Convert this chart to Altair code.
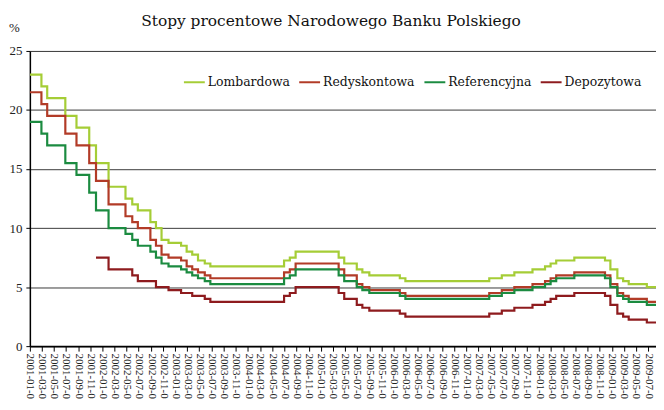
import altair as alt
import pandas as pd

# Dates of rate changes (step function) and rate values in %
dates = [
    "2001-01-01", "2001-02-28", "2001-03-29", "2001-06-28", "2001-08-23", "2001-10-26",
    "2001-11-29", "2002-01-31", "2002-04-26", "2002-05-30", "2002-06-27", "2002-08-29",
    "2002-09-26", "2002-10-24", "2002-11-28", "2003-01-30", "2003-02-27", "2003-03-27",
    "2003-04-25", "2003-05-29", "2003-06-26", "2004-06-30", "2004-07-29", "2004-08-27",
    "2005-03-31", "2005-04-28", "2005-06-30", "2005-07-28", "2005-09-01", "2006-02-01",
    "2006-03-01", "2007-04-26", "2007-06-28", "2007-08-30", "2007-11-29", "2008-01-31",
    "2008-02-28", "2008-03-27", "2008-06-26", "2008-11-27", "2008-12-24", "2009-01-28",
    "2009-02-26", "2009-03-26", "2009-06-25", "2009-08-10",
]
lombardowa = [
    23.0, 22.0, 21.0, 19.5, 18.5, 17.0, 15.5, 13.5, 12.5, 12.0, 11.5, 10.5,
    10.0, 9.0, 8.75, 8.5, 8.0, 7.75, 7.25, 7.0, 6.75, 7.25, 7.5, 8.0,
    7.5, 7.0, 6.5, 6.25, 6.0, 5.75, 5.5, 5.75, 6.0, 6.25, 6.5, 6.75,
    7.0, 7.25, 7.5, 7.25, 6.5, 5.75, 5.5, 5.25, 5.0, 5.0,
]
redyskontowa = [
    21.5, 20.5, 19.5, 18.0, 17.0, 15.5, 14.0, 12.0, 11.0, 10.5, 10.0, 9.0,
    8.5, 7.75, 7.5, 7.25, 6.75, 6.5, 6.25, 6.0, 5.75, 6.25, 6.5, 7.0,
    6.5, 6.0, 5.25, 5.0, 4.75, 4.5, 4.25, 4.5, 4.75, 5.0, 5.25, 5.5,
    5.75, 6.0, 6.25, 6.0, 5.25, 4.5, 4.25, 4.0, 3.75, 3.75,
]
referencyjna = [
    19.0, 18.0, 17.0, 15.5, 14.5, 13.0, 11.5, 10.0, 9.5, 9.0, 8.5, 8.0,
    7.5, 7.0, 6.75, 6.5, 6.25, 6.0, 5.75, 5.5, 5.25, 5.75, 6.0, 6.5,
    6.0, 5.5, 5.0, 4.75, 4.5, 4.25, 4.0, 4.25, 4.5, 4.75, 5.0, 5.25,
    5.5, 5.75, 6.0, 5.75, 5.0, 4.25, 4.0, 3.75, 3.5, 3.5,
]
depozytowa = [
    None, None, None, None, None, None, 7.5, 6.5, 6.5, 6.0, 5.5, 5.5,
    5.0, 5.0, 4.75, 4.5, 4.5, 4.25, 4.25, 4.0, 3.75, 4.25, 4.5, 5.0,
    4.5, 4.0, 3.5, 3.25, 3.0, 2.75, 2.5, 2.75, 3.0, 3.25, 3.5, 3.75,
    4.0, 4.25, 4.5, 4.25, 3.5, 2.75, 2.5, 2.25, 2.0, 2.0,
]

series_names = ["Lombardowa", "Redyskontowa", "Referencyjna", "Depozytowa"]
series_values = [lombardowa, redyskontowa, referencyjna, depozytowa]
series_colors = ["#a5cd36", "#b23b27", "#1b8b40", "#8e1b1e"]
y_ticks = [0, 5, 10, 15, 20, 25]

rows = []
for name, vals in zip(series_names, series_values):
    for d, v in zip(dates, vals):
        if v is not None:
            rows.append({"date": d, "series": name, "value": v})
df = pd.DataFrame(rows)

serif = "DejaVu Serif"
num_font = "Liberation Serif"

chart = (
    alt.Chart(df)
    .mark_line(interpolate="step-after", strokeWidth=2.2, clip=True)
    .encode(
        x=alt.X(
            "date:T",
            scale=alt.Scale(
                type="utc",
                domain=[
                    alt.DateTime(year=2001, month=1, date=1, utc=True),
                    alt.DateTime(year=2009, month=8, date=10, utc=True),
                ],
                nice=False,
            ),
            axis=alt.Axis(
                title=None,
                tickCount={"interval": "month", "step": 2},
                labelExpr="utcFormat(datum.value, '%Y-%m-0')",
                labelAngle=90,
                labelAlign="left",
                labelBaseline="middle",
                labelFont=num_font,
                labelFontSize=11,
                labelColor="#222222",
                labelPadding=2,
                labelOverlap=False,
                labelFlush=False,
                domainColor="#000000",
                domainWidth=2,
                tickColor="#000000",
                tickSize=5,
                tickWidth=1,
                grid=False,
            ),
        ),
        y=alt.Y(
            "value:Q",
            scale=alt.Scale(domain=[0, 25], nice=False),
            axis=alt.Axis(
                title="%",
                titleAngle=0,
                titleX=-16,
                titleY=-24,
                titleAlign="center",
                titleBaseline="middle",
                titleFont=num_font,
                titleFontSize=13,
                titleFontWeight="normal",
                titleColor="#222222",
                values=y_ticks,
                labelFont=num_font,
                labelFontSize=13,
                labelColor="#222222",
                labelPadding=4,
                domainColor="#000000",
                domainWidth=1.5,
                tickColor="#000000",
                tickSize=4,
                grid=True,
                gridColor="#3a3a3a",
                gridWidth=1,
            ),
        ),
        color=alt.Color(
            "series:N",
            sort=series_names,
            scale=alt.Scale(domain=series_names, range=series_colors),
            legend=alt.Legend(
                title=None,
                orient="none",
                legendX=154,
                legendY=20,
                direction="horizontal",
                symbolType="stroke",
                symbolSize=441,
                symbolStrokeWidth=2,
                labelFont=serif,
                labelFontSize=12.5,
                labelColor="#111111",
                labelOffset=2,
                columnPadding=5,
                padding=0,
            ),
        ),
    )
    .properties(
        width=630,
        height=297,
        autosize=alt.AutoSizeParams(type="none"),
        padding={"left": 22, "top": 42, "right": 0, "bottom": 55},
        title=alt.TitleParams(
            "Stopy procentowe Narodowego Banku Polskiego",
            font=serif,
            fontSize=15.5,
            fontWeight="normal",
            color="#111111",
            anchor="middle",
            dx=-12,
            offset=-8,
        ),
    )
    .configure_view(stroke=None)
    .configure(background="white")
)

chart.save("out.html", embed_options={"renderer": "svg", "actions": False})
